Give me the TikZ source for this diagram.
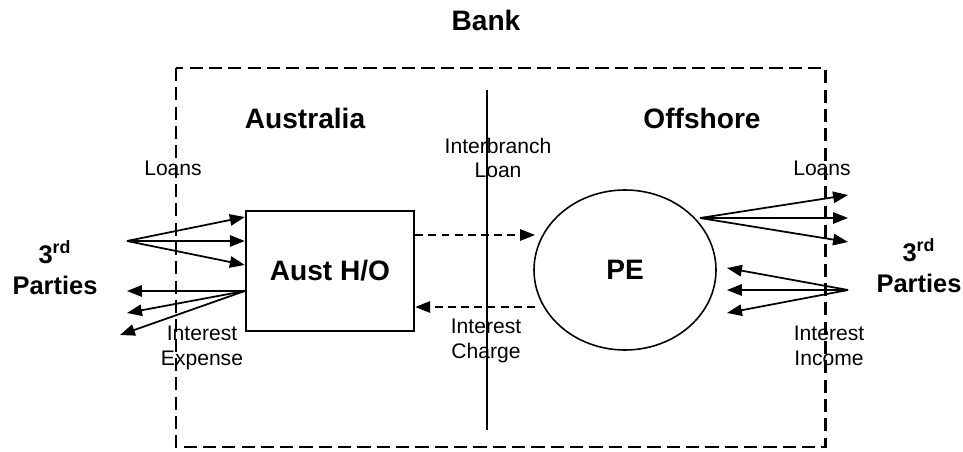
\documentclass[tikz,border=0pt]{standalone}
\usepackage{fontspec}
\setmainfont{Liberation Sans}
\usetikzlibrary{arrows.meta, shapes, positioning}
\tikzset{> = { Triangle[length = 8.5pt, width = 6.5pt] }}
\tikzset{
	flow/.style = {->, line width = 1pt},
	interflow/.style = {->, line width = 0.9pt, dash pattern = on 4.5pt off 3pt},
	bigtext/.style = {font = \fontsize{16}{18}\selectfont\bfseries},
	partytext/.style = {font = \fontsize{14.5}{18}\selectfont\bfseries, align = center},
	smalltext/.style = {font = \fontsize{12}{14}\selectfont, align = center}
}

\begin{document}
\begin{tikzpicture}[x = 0.02cm, y = -0.02cm]
		\useasboundingbox (0, 0) rectangle (963, 452);
		% bank frame
		\draw [line width = 1.7pt, dash pattern = on 7.5pt off 3.5pt] (176, 68) rectangle (825, 447);
		\node [bigtext] (bank) at (486, 20) {Bank};
		\node [bigtext] (aus) at (305, 118) {Australia};
		\node [bigtext] (off) at (702, 118) {Offshore};
		\coordinate (divtop) at (487, 90);
		\coordinate (divbot) at (487, 430);
		\draw [line width = 0.9pt] (divtop) -- (divbot);

		% branches
		\node [draw, line width = 1.4pt, minimum width = 168*0.02cm, minimum height = 120*0.02cm, bigtext] (aho) at (330, 271) {Aust H/O};
		\node [draw, ellipse, line width = 0.9pt, minimum width = 182*0.02cm, minimum height = 160*0.02cm, bigtext] (pe) at (625, 270) {PE};

		\coordinate (ahoA) at (aho.east |- 0, 235);
		\coordinate (ahoB) at (aho.east |- 0, 307);
		\coordinate (peA) at (535, 235);
		\coordinate (peB) at (535, 307);
		\draw [interflow] (ahoA) -- (peA);
		\draw [interflow] (peB) -- (ahoB);
		\node [smalltext] (ibl) at (498, 158) {Interbranch\\Loan};
		\node [smalltext] (ich) at (486, 341) {Interest\\Charge};

		% third parties, left
		\node [partytext] (tpl) at (55, 268) {3\textsuperscript{rd}\\Parties};
		\coordinate (lsrc) at (127, 241);
		\foreach \y in {217, 241, 265}
			\draw [flow] (lsrc) -- (aho.west |- 0, \y);
		\coordinate (lret) at (aho.west |- 0, 291);
		\foreach \y/\x in {291/127, 313/127, 335/120}
			\draw [flow] (lret) -- (\x, \y);
		\node [smalltext] (lloans) at (173, 168) {Loans};
		\node [smalltext] (lint) at (202, 348) {Interest\\Expense};

		% third parties, right
		\node [partytext] (tpr) at (919, 266) {3\textsuperscript{rd}\\Parties};
		\coordinate (rsrc) at (700, 218);
		\foreach \y in {195, 218, 242}
			\draw [flow] (rsrc) -- (848, \y);
		\coordinate (rret) at (848, 290);
		\foreach \y in {268, 290, 313}
			\draw [flow] (rret) -- (727, \y);
		\node [smalltext] (rloans) at (822, 168) {Loans};
		\node [smalltext] (rint) at (829, 346) {Interest\\Income};
	\end{tikzpicture}
\end{document}
